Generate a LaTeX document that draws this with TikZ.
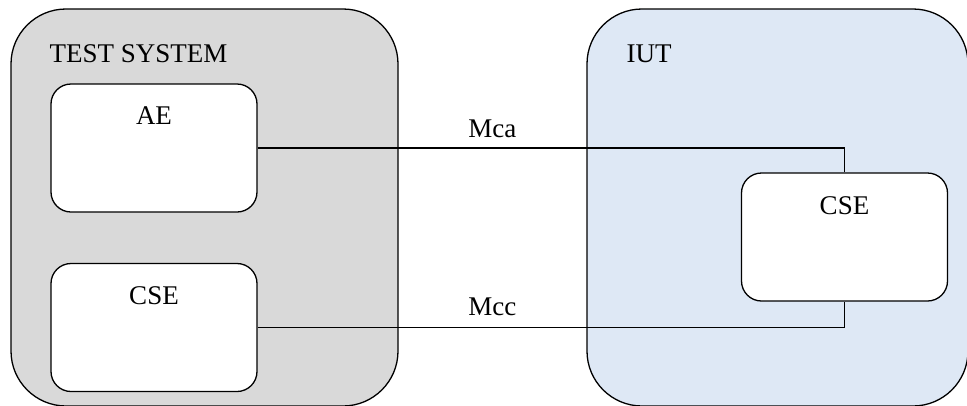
\documentclass[tikz,border=0pt]{standalone}
\usepackage{fontspec}
\setmainfont{Liberation Serif}
\usetikzlibrary{positioning}
\definecolor{tsgray}{HTML}{D9D9D9}
\definecolor{iutblue}{HTML}{DEE8F5}

\begin{document}
\begin{tikzpicture}[
    x=1pt, y=-1pt,
    every node/.style={font=\fontsize{27}{32}\selectfont},
    every label/.style={inner sep=0pt},
    system/.style={draw, line width=1.3pt, rounded corners=55pt, inner sep=0pt,
                   minimum width=#1, minimum height=397pt},
    entity/.style={draw, fill=white, line width=1.3pt, rounded corners=20pt,
                   inner sep=0pt, minimum width=206pt, minimum height=128pt},
    link/.style={line width=1.3pt}]

\useasboundingbox (0,0) rectangle (967,405);
\clip (0,0) rectangle (967,405);

\node[system=387pt, fill=tsgray,
      label={[name=tslbl, anchor=base west, xshift=39pt, yshift=-54pt]north west:TEST SYSTEM}]
      (ts) at (204.5,207.5) {};
\node[system=381pt, fill=iutblue,
      label={[name=iutlbl, anchor=base west, xshift=40pt, yshift=-54pt]north west:IUT}]
      (iut) at (777.5,207.5) {};

\node[entity, label={[name=aelbl, anchor=base, yshift=-41pt]north:AE}]
      (ae) at (154,148) {};
\node[entity, label={[name=tscselbl, anchor=base, yshift=-42pt]north:CSE}]
      (tscse) at (154,327.5) {};
\node[entity, label={[name=iutcselbl, anchor=base, yshift=-42pt]north:CSE}]
      (iutcse) at (844.5,237) {};

% reference points
\draw[link] (ae.east) -| node[name=mca, anchor=base, yshift=11pt, pos=.2] {Mca} (iutcse.north);
\draw[link] (tscse.east) -| node[name=mcc, anchor=base, yshift=12pt, pos=.2] {Mcc} (iutcse.south);

\end{tikzpicture}
\end{document}
